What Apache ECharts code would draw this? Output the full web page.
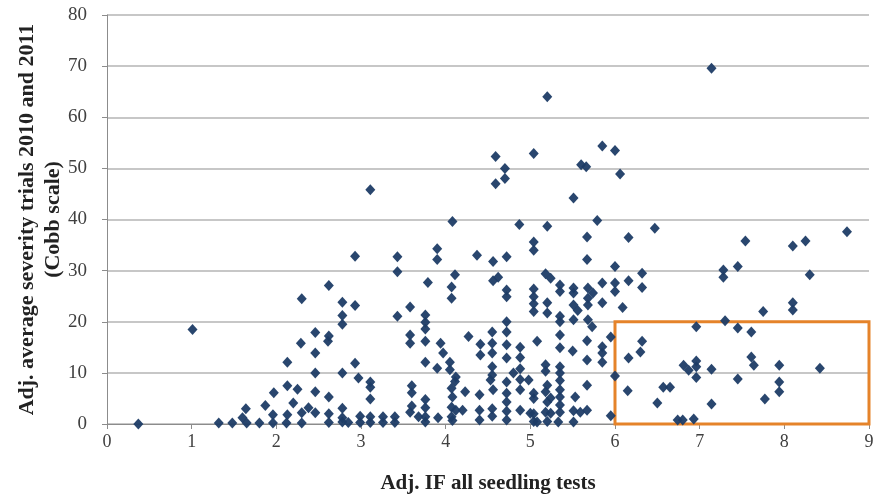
<!DOCTYPE html>
<html>
<head>
<meta charset="utf-8">
<style>
	html,body{ margin:0; padding:0; background:#fff;}
	#mainBox{ width:878px; height:494px;}
</style>
</head>
<body>
<div id="mainBox"></div>
<script src="https://cdn.jsdelivr.net/npm/echarts@6/dist/echarts.min.js"></script>
<script>
// points, grouped by x band: [Adj. IF, severity]
var band0to2=[[0.37,0],[1.01,18.5],[1.32,0.2],[1.48,0.2],[1.6,1.2],[1.64,3],[1.65,0.2],[1.8,0.2],[1.87,3.6],[1.96,1.8],[1.96,0.2],[1.97,6.1]];
var band2to3=[[2.12,0.2],[2.13,1.8],[2.13,7.5],[2.13,12.1],[2.2,4.1],[2.25,6.8],[2.3,0.2],[2.3,2.2],[2.29,15.8],[2.3,24.5],[2.38,3.2],
	[2.46,2.2],[2.46,6.3],[2.46,10],[2.46,13.9],[2.46,17.9],[2.62,0.3],[2.62,2],[2.62,5.3],[2.61,16.2],[2.62,17.2],[2.62,27.1],
	[2.78,1.2],[2.78,3.1],[2.78,0.4],[2.78,10],[2.78,19.5],[2.78,21.2],[2.78,23.8],[2.85,0.3],[2.93,11.9],[2.93,23.2],[2.93,32.8],[2.97,9],[2.99,0.3],[2.99,1.5]];
var band3to4=[[3.11,45.8],[3.11,0.3],[3.11,1.4],[3.11,4.9],[3.11,7.2],[3.11,8.2],[3.26,0.3],[3.26,1.4],[3.4,0.3],[3.4,1.4],[3.43,21.1],[3.43,29.8],[3.43,32.7],
	[3.58,2.3],[3.6,3.5],[3.6,6.1],[3.6,7.5],[3.58,15.8],[3.58,17.4],[3.58,22.9],[3.68,1.4],[3.76,0.4],[3.76,1.4],[3.76,3.2],[3.76,4.8],[3.76,12.1],[3.76,16.2],
	[3.76,18.6],[3.76,19.9],[3.76,21.3],[3.79,27.7],[3.9,10.9],[3.91,1.2],[3.9,32.2],[3.9,34.3],[3.94,15.8],[3.97,13.9]];
var band4to5=[[4.05,12.1],[4.07,3.3],[4.07,1.4],[4.07,7],[4.08,0.7],[4.08,5.3],[4.07,24.6],[4.07,26.8],[4.08,39.6],[4.11,29.2],[4.11,8.3],[4.12,2.7],[4.12,9.2],[4.05,10.6],
	[4.2,2.7],[4.23,6.3],[4.27,17.1],[4.37,33],[4.4,0.8],[4.4,2.7],[4.4,5.7],[4.41,13.5],[4.41,15.6],[4.53,8.6],[4.55,1.5],[4.55,3],[4.56,6.7],[4.55,9.6],
	[4.55,11.2],[4.55,13.9],[4.55,15.8],[4.55,18],[4.56,28],[4.56,31.8],[4.59,47],[4.59,52.3],[4.62,28.7],[4.7,48],[4.7,50],[4.72,0.8],[4.72,2.5],[4.72,4.3],
	[4.72,6],[4.72,8.2],[4.72,12.9],[4.72,15.5],[4.72,18],[4.72,20],[4.72,24.9],[4.72,26.2],[4.72,32.7],[4.8,10],[4.87,39],[4.88,2.7],[4.88,6.7],[4.88,8.7],
	[4.88,10.8],[4.88,13],[4.88,15],[4.98,8.6],[5.0,2.1]];
var band5to6=[[5.04,0.5],[5.04,2],[5.04,5],[5.04,6],[5.04,22],[5.04,23.5],[5.04,24.9],[5.04,26.4],[5.04,34],[5.04,35.6],[5.04,52.9],[5.08,0.4],[5.08,16.2],
	[5.2,0.5],[5.18,2.3],[5.2,4.3],[5.18,6.3],[5.2,7.6],[5.18,10.3],[5.18,11.6],[5.2,21.7],[5.2,23.7],[5.18,29.4],[5.2,38.7],[5.2,64],[5.24,28.5],[5.24,5.1],
	[5.24,2.1],[5.33,0.4],[5.35,2.3],[5.35,3.7],[5.35,5.3],[5.35,6.7],[5.35,8.5],[5.35,10],[5.35,11.2],[5.35,14.9],[5.35,17.4],[5.35,20],[5.35,21.1],[5.35,25.9],
	[5.35,27.2],[5.51,0.4],[5.51,2.6],[5.53,5.3],[5.5,14.3],[5.51,20.4],[5.51,23.3],[5.56,22.2],[5.51,25.6],[5.51,26.6],[5.51,44.2],[5.59,2.3],[5.6,50.7],
	[5.66,50.3],[5.67,2.7],[5.67,7.6],[5.67,12.5],[5.67,16.3],[5.68,20.4],[5.73,19],[5.68,23.3],[5.68,24.6],[5.68,26.6],[5.74,25.6],[5.67,32.2],[5.67,36.6],
	[5.79,39.8],[5.85,12.1],[5.85,13.9],[5.85,15.1],[5.85,23.7],[5.85,27.6],[5.85,54.4],[5.95,1.6],[5.95,17],[6.0,9.4],[6.0,25.9],[6.0,27.6],[6.0,30.8],
	[6.0,53.5],[6.06,48.9],[6.09,22.8]];
var band6to9=[[6.15,6.5],[6.16,12.9],[6.16,28],[6.16,36.5],[6.3,14.1],[6.32,16.2],[6.32,26.7],[6.32,29.5],[6.47,38.3],[6.5,4.1],[6.57,7.2],[6.65,7.2],
	[6.74,0.8],[6.8,0.8],[6.93,1],[6.81,11.5],[6.87,10.5],[6.96,9.1],[6.96,11.2],[6.96,12.3],[6.96,19],[7.14,3.9],[7.14,10.7],[7.14,69.6],[7.28,28.7],
	[7.28,30.1],[7.3,20.2],[7.45,8.8],[7.45,18.8],[7.45,30.8],[7.54,35.8],[7.61,13.1],[7.64,11.5],[7.61,18],[7.75,22],[7.77,4.9],[7.94,6.3],[7.94,8.2],
	[7.94,11.5],[8.1,22.3],[8.1,23.7],[8.1,34.8],[8.25,35.8],[8.3,29.2],[8.42,10.9],[8.74,37.6]];

// highlighted region (orange box)
var boxX=[6,9];
var boxY=[0,20];

var xName='Adj. IF all seedling tests';
var yName='Adj. average severity trials 2010 and 2011\n(Cobb scale)';

var allPoints=[].concat(band0to2,band2to3,band3to4,band4to5,band5to6,band6to9);
var serif='"Liberation Serif","DejaVu Serif",serif';

var myChart=echarts.init(document.getElementById('mainBox'),null,{renderer:'canvas'});
myChart.setOption({
	animation:false,
	grid:{left:107,right:9,top:15,bottom:70,containLabel:false,outerBoundsMode:'none'},
	xAxis:{
		type:'value',min:0,max:9,interval:1,
		name:xName,nameLocation:'middle',nameGap:49,nameMoveOverlap:false,
		nameTextStyle:{fontFamily:serif,fontWeight:'bold',fontSize:21,color:'#222'},
		axisLine:{show:true,onZero:false,lineStyle:{color:'#8c8c8c',width:1}},
		axisTick:{show:true,length:5,lineStyle:{color:'#8c8c8c'}},
		axisLabel:{fontFamily:serif,fontSize:18,color:'#404040',margin:9},
		splitLine:{show:false}
	},
	yAxis:{
		type:'value',min:0,max:80,interval:10,
		name:yName,nameLocation:'middle',nameGap:41,nameRotate:90,nameMoveOverlap:false,
		nameTextStyle:{fontFamily:serif,fontWeight:'bold',fontSize:22,color:'#222',lineHeight:26},
		axisLine:{show:true,lineStyle:{color:'#8c8c8c',width:1}},
		axisTick:{show:true,length:5,lineStyle:{color:'#8c8c8c'}},
		axisLabel:{fontFamily:serif,fontSize:19,color:'#404040',margin:20},
		splitLine:{show:true,lineStyle:{color:'#b4b4b4',width:1.5}}
	},
	series:[{
		type:'scatter',
		data:allPoints,
		symbol:'diamond',
		symbolSize:[10,11],
		itemStyle:{color:'#1d3c66',opacity:0.95},
		markArea:{
			silent:true,
			itemStyle:{color:'rgba(0,0,0,0)',borderColor:'#e5832a',borderWidth:3},
			data:[[{coord:[boxX[0],boxY[0]]},{coord:[boxX[1],boxY[1]]}]]
		}
	}]
});
</script>
</body>
</html>
